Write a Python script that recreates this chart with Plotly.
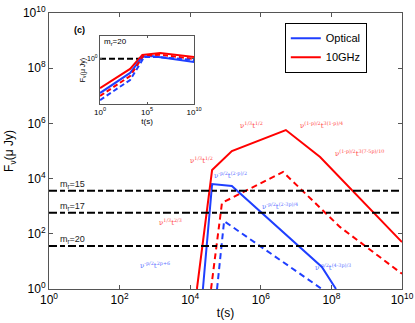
import numpy as np
import plotly.graph_objects as go

# main panel, values read as log10(t) and log10(F)
red_solid_logt = [4.19, 4.62, 5.18, 6.71, 7.68, 10.0]
red_solid_logf = [0.0, 4.31, 5.00, 5.76, 4.78, 1.70]
red_dash_logt = [4.59, 4.90, 6.63, 8.24, 10.0]
red_dash_logf = [0.0, 3.12, 4.24, 2.25, 0.55]
blue_solid_logt = [4.36, 4.62, 5.18, 7.73, 8.13]
blue_solid_logf = [0.0, 3.80, 3.73, 0.80, 0.0]
blue_dash_logt = [4.76, 4.96, 7.73]
blue_dash_logf = [0.0, 2.46, 0.0]

# limiting magnitudes (AB) -> flux in uJy
mags = [15, 17, 20]

# inset panel
in_red_solid_logt = [0.0, 3.2, 4.5, 6.4, 10.0]
in_red_solid_logf = [-2.59, -0.91, 0.32, 0.50, 0.15]
in_blue_solid_logt = [0.0, 3.2, 4.5, 5.5, 10.0]
in_blue_solid_logf = [-3.03, -1.26, 0.15, 0.22, -0.29]
in_red_dash_logt = [0.0, 3.2, 4.6, 6.4, 10.0]
in_red_dash_logf = [-3.29, -1.53, 0.24, 0.35, -0.03]
in_blue_dash_logt = [0.0, 3.2, 4.7, 6.0, 10.0]
in_blue_dash_logf = [-3.65, -1.88, 0.15, 0.15, -0.12]

RED = "#ff0000"
BLUE = "#1f3fff"

fig = go.Figure()

def p(a):
    return np.power(10.0, a)

fig.add_trace(go.Scatter(x=p(blue_solid_logt), y=p(blue_solid_logf), mode="lines",
                         line=dict(color=BLUE, width=2), name="Optical"))
fig.add_trace(go.Scatter(x=p(red_solid_logt), y=p(red_solid_logf), mode="lines",
                         line=dict(color=RED, width=2), name="10GHz"))
fig.add_trace(go.Scatter(x=p(red_dash_logt), y=p(red_dash_logf), mode="lines",
                         line=dict(color=RED, width=2, dash="6px,4px"), showlegend=False))
fig.add_trace(go.Scatter(x=p(blue_dash_logt), y=p(blue_dash_logf), mode="lines",
                         line=dict(color=BLUE, width=2, dash="6px,4px"), showlegend=False))

for m in mags:
    f = 10 ** ((23.9 - m) / 2.5)
    fig.add_trace(go.Scatter(x=[1, 1e10], y=[f, f], mode="lines",
                             line=dict(color="black", width=2, dash="8px,3px,5px,3px"),
                             showlegend=False))
    fig.add_annotation(x=0.25, y=np.log10(f), xref="x", yref="y", text="m<sub>r</sub>=%d" % m,
                       showarrow=False, xanchor="left", yanchor="bottom", yshift=-1,
                       font=dict(size=9, color="#222"))

# inset traces
fig.add_trace(go.Scatter(x=[1, 10 ** 4.6], y=[1, 1], mode="lines", xaxis="x2", yaxis="y2",
                         line=dict(color="black", width=2, dash="6px,3px"), showlegend=False))
for lt, lf, c, d in [(in_red_solid_logt, in_red_solid_logf, RED, "solid"),
                     (in_blue_solid_logt, in_blue_solid_logf, BLUE, "solid"),
                     (in_red_dash_logt, in_red_dash_logf, RED, "5px,3px"),
                     (in_blue_dash_logt, in_blue_dash_logf, BLUE, "5px,3px")]:
    fig.add_trace(go.Scatter(x=p(lt), y=p(lf), mode="lines", xaxis="x2", yaxis="y2",
                             line=dict(color=c, width=2, dash=d), showlegend=False))

# slope labels
labels = [
    (4.33, 4.67, "ν<sup>1/3</sup>t<sup>1/2</sup>", RED),
    (5.75, 5.94, "ν<sup>1/3</sup>t<sup>1/2</sup>", RED),
    (7.73, 5.94, "ν<sup>(1-p)/2</sup>t<sup>3(1-p)/4</sup>", RED),
    (8.81, 4.93, "ν<sup>(1-p)/2</sup>t<sup>3(7-5p)/10</sup>", RED),
    (3.43, 2.43, "ν<sup>1/3</sup>t<sup>2/3</sup>", RED),
    (3.00, 0.87, "ν<sup>-p/2</sup>t<sup>2p+6</sup>", BLUE),
    (5.13, 4.13, "ν<sup>-p/2</sup>t<sup>(2-p)/2</sup>", BLUE),
    (6.54, 3.00, "ν<sup>-p/2</sup>t<sup>(2-3p)/4</sup>", BLUE),
    (8.05, 0.80, "ν<sup>-p/2</sup>t<sup>(4-3p)/3</sup>", BLUE),
]
for x, y, t, c in labels:
    fig.add_annotation(x=x, y=y, xref="x", yref="y", text=t, showarrow=False,
                       font=dict(size=7, color=c, family="DejaVu Serif"), opacity=0.75)

fig.add_annotation(x=0.065, y=0.965, xref="paper", yref="paper", text="<b>(c)</b>",
                   showarrow=False, font=dict(size=9, color="black"))
fig.add_annotation(x=0.2, y=1.0, xref="x2", yref="y2", text="m<sub>r</sub>=20", showarrow=False,
                   xanchor="left", yanchor="bottom", yshift=-2, font=dict(size=8, color="black"))

axis_style = dict(type="log", showgrid=False, zeroline=False, showline=True, mirror="ticks",
                  linecolor="#555", linewidth=1, ticks="inside", ticklen=4, tickcolor="#555",
                  exponentformat="power", tickfont=dict(size=12, color="black"),
                  automargin=False)

main_ticks = [1, 1e2, 1e4, 1e6, 1e8, 1e10]
main_text = ["10<sup>%d</sup>" % k for k in range(0, 11, 2)]

fig.update_layout(
    width=415, height=323,
    margin=dict(l=49, r=13, t=13, b=34),
    paper_bgcolor="white", plot_bgcolor="white",
    font=dict(family="Liberation Sans, Arial", color="black"),
    xaxis=dict(axis_style, range=[0, 10], tickvals=main_ticks, ticktext=main_text,
               title=dict(text="t(s)", font=dict(size=12), standoff=2)),
    yaxis=dict(axis_style, range=[0, 10], tickvals=main_ticks, ticktext=main_text,
               title=dict(text="F<sub>ν</sub>(μ Jy)", font=dict(size=12), standoff=6)),
    xaxis2=dict(axis_style, domain=[0.1445, 0.411], anchor="y2", range=[0, 10],
                tickvals=[1, 1e5, 1e10], ticktext=["10<sup>0</sup>", "10<sup>5</sup>", "10<sup>10</sup>"],
                tickfont=dict(size=8), ticklen=2,
                title=dict(text="t(s)", font=dict(size=8), standoff=0)),
    yaxis2=dict(axis_style, domain=[0.670, 0.917], anchor="x2", range=[-4, 2],
                tickvals=[1], ticktext=["10<sup>0</sup>"], tickfont=dict(size=7), ticklen=2,
                title=dict(text="F<sub>ν</sub>(μ Jy)", font=dict(size=7), standoff=0)),
    legend=dict(x=0.668, y=0.965, xanchor="left", yanchor="top", bgcolor="white",
                bordercolor="black", borderwidth=1, font=dict(size=11),
                tracegroupgap=0, itemwidth=30),
    showlegend=True,
)

fig.write_html("out.html", config={"displayModeBar": False},
               post_script="document.body.style.margin='0';")
